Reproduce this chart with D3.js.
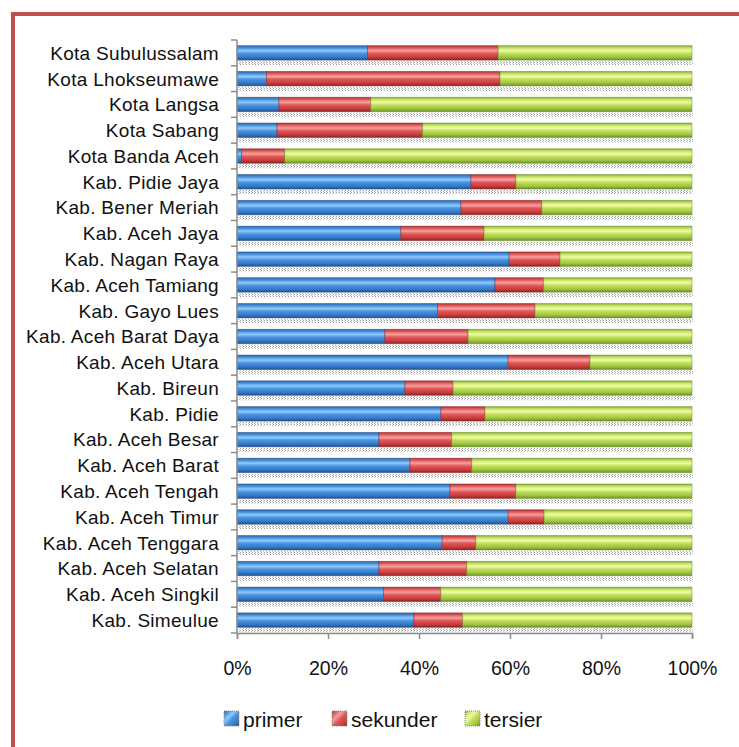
<!DOCTYPE html>
<html>
<head>
<meta charset="utf-8">
<script src="https://cdn.jsdelivr.net/npm/d3@7"></script>
<style>
  body { margin: 0; background: #fff; }
  svg { display: block; font-family: "Liberation Sans", Arial, sans-serif; }
</style>
</head>
<body>
<div class="chart"></div>
<script>
// categories top to bottom
var categories = ["Kota Subulussalam", "Kota Lhokseumawe", "Kota Langsa", "Kota Sabang",
  "Kota Banda Aceh", "Kab. Pidie Jaya", "Kab. Bener Meriah", "Kab. Aceh Jaya",
  "Kab. Nagan Raya", "Kab. Aceh Tamiang", "Kab. Gayo Lues", "Kab. Aceh Barat Daya",
  "Kab. Aceh Utara", "Kab. Bireun", "Kab. Pidie", "Kab. Aceh Besar", "Kab. Aceh Barat",
  "Kab. Aceh Tengah", "Kab. Aceh Timur", "Kab. Aceh Tenggara", "Kab. Aceh Selatan",
  "Kab. Aceh Singkil", "Kab. Simeulue"];

// shares in percent, same order as categories
var primer   = [28.7, 6.5, 9.2, 8.8, 1.0, 51.4, 49.2, 36.0, 59.8, 56.7, 44.1, 32.5,
  59.6, 36.9, 44.8, 31.2, 38.0, 46.8, 59.6, 45.1, 31.2, 32.2, 38.9];
var sekunder = [28.7, 51.3, 20.2, 32.0, 9.5, 9.9, 17.8, 18.3, 11.2, 10.7, 21.4, 18.3,
  18.0, 10.6, 9.7, 16.0, 13.6, 14.5, 7.9, 7.4, 19.3, 12.6, 10.7];
var tersier  = [42.6, 42.2, 70.6, 59.2, 89.5, 38.7, 33.0, 45.7, 29.0, 32.6, 34.5, 49.2,
  22.4, 52.5, 45.5, 52.8, 48.4, 38.7, 32.5, 47.5, 49.5, 55.2, 50.4];

var seriesNames = ["primer", "sekunder", "tersier"];
var xTicks = [0, 0.2, 0.4, 0.6, 0.8, 1];

var width = 739, height = 747;

var svg = d3.select(".chart").append("svg")
  .attr("width", width)
  .attr("height", height);

var defs = svg.append("defs");

// gradients for the glossy bars
var grads = {
  primer:   ["#2a62a8", "#4f97e4", "#8fcbfa", "#4a92e0", "#3479c8", "#22508a"],
  sekunder: ["#ad3030", "#e56565", "#f7a0a0", "#e05555", "#c83c3c", "#8a2424"],
  tersier:  ["#86ad36", "#cde86c", "#f0fca2", "#c0de5c", "#9fc440", "#678f24"]
};
var offs = ["0%", "18%", "35%", "55%", "80%", "100%"];
seriesNames.forEach(function(name) {
  var g = defs.append("linearGradient")
    .attr("id", "grad-" + name)
    .attr("x1", 0).attr("y1", 0).attr("x2", 0).attr("y2", 1);
  grads[name].forEach(function(c, i) {
    g.append("stop").attr("offset", offs[i]).attr("stop-color", c);
  });
  var lg = defs.append("linearGradient")
    .attr("id", "lgrad-" + name)
    .attr("x1", 0).attr("y1", 0).attr("x2", 1).attr("y2", 1);
  grads[name].forEach(function(c, i) {
    lg.append("stop").attr("offset", offs[i]).attr("stop-color", c);
  });
});

// dotted shadow pattern under the bars
var pat = defs.append("pattern")
  .attr("id", "dots")
  .attr("width", 3).attr("height", 2)
  .attr("patternUnits", "userSpaceOnUse");
pat.append("rect").attr("width", 1).attr("height", 1).attr("fill", "#9a9a9a");
pat.append("rect").attr("x", 2).attr("y", 1).attr("width", 1).attr("height", 1).attr("fill", "#b5b5b5");

// red frame
svg.append("line")
  .attr("x1", 11).attr("x2", width).attr("y1", 14).attr("y2", 14)
  .attr("stroke", "#c0504d").attr("stroke-width", 4);
svg.append("line")
  .attr("x1", 13).attr("x2", 13).attr("y1", 12).attr("y2", height)
  .attr("stroke", "#c0504d").attr("stroke-width", 4);

// scales
var x = d3.scaleLinear().domain([0, 1]).range([237, 692]);
var y = d3.scaleBand().domain(categories).range([40, 633]).paddingInner(0.44).paddingOuter(0.22);

var rows = categories.map(function(c, i) {
  return { name: c, primer: primer[i], sekunder: sekunder[i], tersier: tersier[i] };
});

var stack = d3.stack().keys(seriesNames).offset(d3.stackOffsetExpand);
var layers = stack(rows);

// shadow strip under each bar
svg.append("g").selectAll("rect")
  .data(categories)
  .enter().append("rect")
  .attr("x", x(0) + 1)
  .attr("y", function(d) { return y(d) + y.bandwidth() + 1; })
  .attr("width", x(1) - x(0))
  .attr("height", 4)
  .attr("fill", "url(#dots)");

// bars
var layer = svg.append("g").selectAll("g")
  .data(layers)
  .enter().append("g");

layer.selectAll("rect")
  .data(function(d) { return d.map(function(v) { v.key = d.key; return v; }); })
  .enter().append("rect")
  .attr("x", function(d) { return x(d[0]); })
  .attr("y", function(d) { return y(d.data.name); })
  .attr("width", function(d) { return Math.max(0, x(d[1]) - x(d[0])); })
  .attr("height", y.bandwidth())
  .attr("fill", function(d) { return "url(#grad-" + d.key + ")"; })
  .attr("stroke", function(d) { return grads[d.key][5]; })
  .attr("stroke-opacity", 0.6)
  .attr("stroke-width", 0.8);

// y axis
var yAxis = svg.append("g")
  .attr("transform", "translate(" + x(0) + ",0)");
yAxis.append("line")
  .attr("x1", 0).attr("x2", 0).attr("y1", 40).attr("y2", 633)
  .attr("stroke", "#8c8c8c").attr("stroke-width", 1.5);
var bounds = categories.map(function(c) { return y(c) - y.step() * y.paddingInner() / 2; });
bounds.push(633);
yAxis.selectAll(".tk")
  .data(bounds)
  .enter().append("line")
  .attr("x1", -6).attr("x2", 0)
  .attr("y1", function(d) { return d; }).attr("y2", function(d) { return d; })
  .attr("stroke", "#8c8c8c").attr("stroke-width", 1.5);

// category labels
svg.append("g").selectAll("text")
  .data(categories)
  .enter().append("text")
  .attr("x", 219)
  .attr("y", function(d) { return y(d) + y.bandwidth() / 2; })
  .attr("dy", "0.36em")
  .attr("text-anchor", "end")
  .attr("font-size", 19)
  .attr("letter-spacing", 0.3)
  .attr("fill", "#111")
  .text(function(d) { return d; });

// x axis
var xAxis = svg.append("g")
  .attr("transform", "translate(0,633)")
  .call(d3.axisBottom(x).tickValues(xTicks).tickSize(6).tickPadding(22)
    .tickFormat(d3.format(".0%")));
xAxis.select(".domain").attr("stroke", "#8c8c8c").attr("stroke-width", 1.5);
xAxis.selectAll(".tick line").attr("stroke", "#8c8c8c").attr("stroke-width", 1.5);
xAxis.selectAll(".tick text")
  .attr("font-size", 19.5)
  .attr("font-family", "Liberation Sans, Arial, sans-serif")
  .attr("fill", "#111");

// legend
var legendX = [224, 332, 465];
var legend = svg.append("g").selectAll("g")
  .data(seriesNames)
  .enter().append("g")
  .attr("transform", function(d, i) { return "translate(" + legendX[i] + ",711)"; });
legend.append("rect")
  .attr("width", 15).attr("height", 15)
  .attr("fill", function(d) { return "url(#lgrad-" + d + ")"; })
  .attr("stroke", "#888")
  .attr("stroke-dasharray", "1,1")
  .attr("stroke-width", 1);
legend.append("text")
  .attr("x", 19)
  .attr("y", 8)
  .attr("dy", "0.36em")
  .attr("font-size", 21)
  .attr("fill", "#111")
  .text(function(d) { return d; });
</script>
</body>
</html>
